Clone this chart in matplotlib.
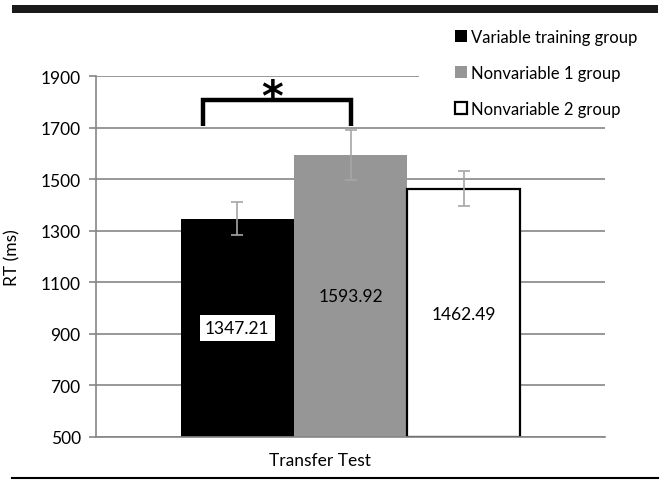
import matplotlib.pyplot as plt
from matplotlib.patches import Rectangle
from matplotlib.lines import Line2D

plt.rcParams['font.family'] = ['Lato', 'DejaVu Sans']

groups = ['Variable training group', 'Nonvariable 1 group', 'Nonvariable 2 group']
means = [1347.21, 1593.92, 1462.49]
errors = [65, 97, 68]
label_y = [923, 1047, 977]
category = 'Transfer Test'
yticks = [500, 700, 900, 1100, 1300, 1500, 1700, 1900]

face = ['black', '#969696', 'white']
grid_col = '#868686'
err_col = '#a6a6a6'

fig = plt.figure(figsize=(6.66, 4.81), dpi=100)
ax = fig.add_axes([96/666, 1-438/481, 509/666, (438-77)/481])

xs = [-1, 0, 1]
ax.bar(xs, [m - 500 for m in means], bottom=500, width=1.0,
       color=face, edgecolor=['black', '#969696', 'black'],
       linewidth=[0, 0, 1.6], zorder=2)
ax.errorbar(xs, means, yerr=errors, fmt='none', ecolor=err_col,
            elinewidth=1.2, capsize=4, capthick=1.2, zorder=3)

# value labels
ax.text(xs[0], label_y[0], f'{means[0]:.2f}', ha='center', va='center', fontsize=12.5,
        bbox=dict(boxstyle='square,pad=0.3', fc='white', ec='none'), zorder=4)
for i in (1, 2):
    ax.text(xs[i], label_y[i], f'{means[i]:.2f}', ha='center', va='center',
            fontsize=12.5, zorder=4)

# significance bracket
ax.plot([-1.3, -1.3, 0, 0], [1706, 1807, 1807, 1706], color='black', lw=3.2,
        solid_joinstyle='miter', solid_capstyle='butt', zorder=4, clip_on=False)
ax.text(-0.69, 1815, '*', ha='center', va='center', fontsize=30, fontweight='bold',
        family='DejaVu Sans', zorder=4)

ax.set_xlim(-2.246, 2.246)
ax.set_ylim(500, 1900)
ax.set_yticks(yticks)
ax.yaxis.grid(True, color=grid_col, lw=1.2, zorder=0)
ax.set_axisbelow(True)
ax.set_xticks([-0.27], [category])
ax.tick_params(axis='x', length=0, pad=11, labelsize=12.5)
ax.tick_params(axis='y', length=5, width=1.2, color=grid_col, labelsize=12.5, pad=6)
for s in ['top', 'right']:
    ax.spines[s].set_visible(False)
for s in ['left', 'bottom']:
    ax.spines[s].set_color(grid_col)
    ax.spines[s].set_linewidth(1.2)
ax.set_ylabel('RT (ms)', fontsize=12.5)
ax.yaxis.set_label_coords(-0.148, 0.5)

# white area behind legend
fig.add_artist(Rectangle((419/666, 1-120/481), 247/666, 100/481,
                         transform=fig.transFigure, fc='white', ec='none', zorder=2))
handles = [Rectangle((0, 0), 1, 1, fc=face[i], ec='black' if i != 1 else '#969696',
                     lw=1.6 if i == 2 else 0) for i in range(3)]
fig.legend(handles, groups, loc='upper left', bbox_to_anchor=(443/666, 1-18/481),
           frameon=False, fontsize=12, handlelength=0.75, handleheight=0.75,
           handletextpad=0.25, labelspacing=1.2, borderpad=0.2)

# top rule and bottom rule
fig.add_artist(Rectangle((12/666, 1-14/481), 646/666, 8/481, transform=fig.transFigure,
                         fc='#1a1a1a', ec='none'))
fig.add_artist(Line2D([12/666, 658/666], [1-479/481, 1-479/481], transform=fig.transFigure,
                      color='black', lw=1.5))

fig.savefig('out.png', dpi=100)
